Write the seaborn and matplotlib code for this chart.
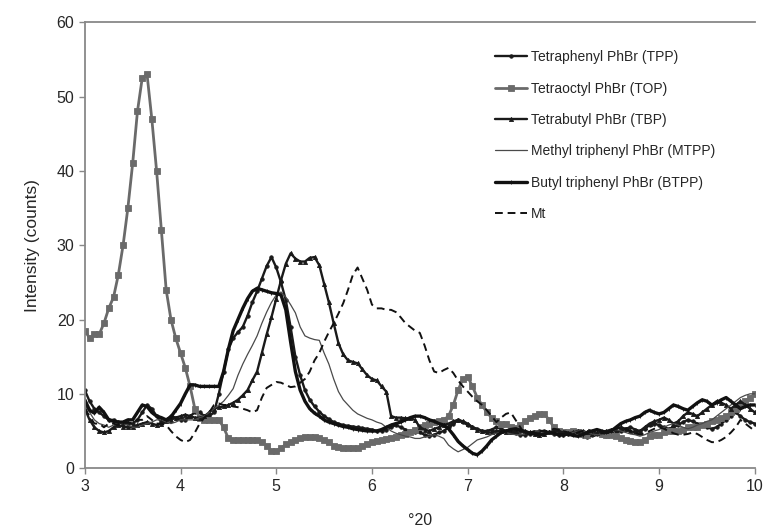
import numpy as np
import pandas as pd
import matplotlib
matplotlib.use("Agg")
import matplotlib.pyplot as plt
import seaborn as sns

# 2-theta grid of the diffractograms (0.05 deg step)
two_theta = np.round(np.linspace(3.0, 10.0, 141), 2)

tpp = [10.5, 9, 8, 7.5, 7, 6.5, 6.5, 6.2, 6, 6, 6, 6.5, 7.5, 8.5, 8, 7, 6.2, 6.5, 7, 6.8,
       6.5, 6.5, 7, 7.5, 7.5, 7, 7, 7.5, 10, 13, 16, 17.5, 18.3, 19, 20.5, 22.3, 23.8, 25.5, 27.2, 28.4,
       27, 25, 22.6, 19, 15, 12.5, 10.5, 9.2, 8.3, 7.6, 7, 6.6, 6.2, 6, 5.8, 5.7, 5.6, 5.5, 5.4, 5.3,
       5.2, 5, 5, 5.2, 5.5, 5.8, 5.5, 5.2, 5, 4.8, 4.8, 4.5, 4.3, 4.5, 4.8, 5, 5.5, 6, 6.5, 6.2,
       5.8, 5.5, 5.3, 5, 5, 5.2, 5.5, 5.3, 5, 4.8, 4.7, 4.5, 4.5, 4.6, 4.8, 5, 5, 4.8, 4.6, 4.5,
       4.5, 4.6, 4.8, 4.5, 4.3, 4.2, 4.4, 4.6, 4.5, 4.3, 4.5, 4.8, 5, 5.3, 5.5, 5.2, 5, 5.3, 5.8, 6,
       5.8, 5.5, 5.3, 5.5, 5.8, 6.2, 6.5, 6.3, 6, 5.8, 5.5, 5.3, 5.5, 6, 6.5, 7, 7.5, 7, 6.5, 6.2,
       6]

top = [18.5, 17.5, 18, 18, 19.5, 21.5, 23, 26, 30, 35, 41, 48, 52.5, 53, 47, 40, 32, 24, 20, 17.5,
       15.5, 13.5, 11, 8, 6.8, 6.5, 6.5, 6.5, 6.5, 5.5, 4, 3.8, 3.8, 3.8, 3.8, 3.8, 3.8, 3.5, 3, 2.3,
       2.3, 2.7, 3.2, 3.5, 3.8, 4, 4.2, 4.2, 4.2, 4, 3.8, 3.5, 3, 2.8, 2.7, 2.7, 2.7, 2.7, 3, 3.2,
       3.5, 3.6, 3.8, 3.9, 4, 4.2, 4.5, 4.6, 4.8, 5.2, 5.5, 5.8, 6, 6.2, 6.3, 6.5, 7, 8.5, 10.5, 12,
       12.3, 11, 9.5, 8.5, 7.5, 6.8, 6.3, 6, 6, 5.6, 5.4, 5.8, 6.3, 6.8, 7, 7.3, 7.3, 6.5, 5.5, 5,
       4.8, 4.8, 5, 4.8, 4.6, 4.5, 4.7, 4.8, 4.6, 4.5, 4.5, 4.3, 4.0, 3.8, 3.6, 3.5, 3.5, 3.8, 4.3, 4.5,
       4.5, 4.8, 5, 5, 5, 5.2, 5.5, 5.5, 5.5, 5.8, 6, 6.3, 6.5, 6.8, 7, 7.5, 8, 8.5, 9, 9.5,
       10]

tbp = [8, 6.5, 5.5, 5, 4.8, 5, 5.5, 5.8, 5.6, 5.5, 5.5, 5.8, 6, 6.2, 6, 5.8, 6, 6.3, 6.5, 6.8,
       7, 7.2, 7, 6.8, 6.8, 7, 7.5, 8, 8.2, 8.3, 8.5, 8.8, 9.2, 9.8, 10.5, 11.8, 13, 15.5, 18, 20.3,
       22.8, 25.3, 27.5, 28.9, 28.2, 27.8, 27.8, 28.3, 28.4, 27.3, 24.8, 22.3, 19.5, 16.8, 15.3, 14.5, 14.3, 14.1, 13.3, 12.5,
       12, 11.8, 11, 10.3, 7, 6.8, 6.8, 6.7, 6.7, 6.5, 5.5, 5.2, 5, 5.3, 5.5, 5.8, 6, 6.3, 6.5, 6.3,
       6, 5.5, 5.2, 5, 4.8, 4.8, 5, 5, 4.8, 4.8, 5, 5.2, 5, 4.8, 4.6, 4.5, 4.6, 4.8, 5, 5,
       4.8, 4.7, 4.8, 5, 5, 4.8, 4.6, 4.7, 4.9, 5, 5.2, 5.3, 5.5, 5.3, 5, 4.8, 5, 5.5, 6, 6.3,
       6.5, 6.8, 6.5, 6, 6.3, 7, 7.5, 7.3, 7, 7.5, 8, 8.5, 9, 8.8, 8.5, 8, 8.5, 9, 8.5, 8,
       7.5]

mtpp = [8.5, 7.5, 6.5, 6, 5.8, 5.5, 5.8, 6, 6, 5.8, 5.5, 5.5, 5.8, 6, 6.2, 6.5, 6.5, 6.2, 6, 6.2,
        6.5, 6.5, 6.5, 6.5, 6.8, 7, 7.5, 8, 8.5, 9, 9.8, 10.7, 12.5, 14, 15.3, 16.5, 17.8, 19.5, 21, 22.3,
        23.3, 23.7, 23, 22, 20.9, 19, 17.8, 17.5, 17.3, 17.2, 15.5, 14, 12, 10.3, 9.2, 8.5, 7.8, 7.3, 7, 6.7,
        6.5, 6.2, 6, 5.5, 5, 4.7, 4.5, 4.3, 4.2, 4, 4, 4.2, 4.3, 4.5, 4.3, 4, 3.1, 2.6, 2.2, 2.5,
        2.8, 3.3, 3.8, 4, 4.2, 4.5, 4.7, 4.8, 4.8, 4.6, 4.5, 4.5, 4.6, 4.8, 5, 5, 4.8, 4.6, 4.5, 4.5,
        4.5, 4.6, 4.8, 5, 5, 4.8, 4.6, 4.5, 4.5, 4.7, 5, 5.2, 5, 4.8, 4.6, 4.5, 4.3, 4.5, 4.8, 5,
        5.2, 5.5, 5.8, 6, 5.8, 5.5, 5.3, 5.5, 5.8, 6, 6.3, 6.5, 7, 7.5, 8, 8.5, 9, 9.5, 9.8, 10,
        10]

btpp = [9.2, 7.8, 7.4, 8.2, 7.5, 6.5, 6.3, 6.2, 6.2, 6.5, 6.5, 7.5, 8.5, 8.3, 7.5, 7, 6.8, 6.5, 6.9, 7.8,
        8.7, 10, 11.2, 11.2, 11, 11, 11, 11, 11, 13, 16, 18.5, 20, 21.5, 22.8, 23.8, 24.2, 24, 23.8, 23.6,
        23.5, 23.3, 21.3, 17, 13, 10.5, 9, 8, 7.4, 7, 6.5, 6.2, 6, 5.8, 5.6, 5.5, 5.3, 5.2, 5.1, 5,
        5, 5, 5.2, 5.5, 5.8, 6, 6.2, 6.5, 6.8, 7, 7, 6.8, 6.5, 6.3, 6, 5.8, 5.3, 4.5, 3.6, 3,
        2.5, 2, 1.8, 2.3, 3, 3.8, 4.3, 4.8, 5, 5.2, 5.3, 5.1, 4.9, 4.7, 4.6, 4.5, 4.6, 4.8, 4.7, 4.5,
        4.5, 4.6, 4.4, 4.3, 4.5, 4.8, 5, 5.2, 5, 4.8, 5, 5.5, 6, 6.3, 6.5, 6.8, 7, 7.5, 7.8, 7.5,
        7.3, 7.5, 8, 8.5, 8.3, 8, 7.8, 8.3, 8.8, 9.2, 9, 8.5, 8.8, 9.2, 9.5, 9, 8.5, 8, 8.3, 8.5,
        8.5]

mt = [8, 7, 6, 6, 5.5, 6, 6, 5.8, 6, 6.2, 6, 6.5, 6.5, 7, 6.5, 6, 6, 5.8, 5, 4.3,
      3.8, 3.5, 3.8, 4.8, 6, 6.8, 7.5, 8.5, 8.7, 8.5, 8.5, 8.3, 8.2, 8, 7.8, 7.5, 7.8, 9.5, 10.8, 11.2,
      11.6, 11.5, 11.2, 10.9, 11, 11.5, 12, 13, 14.5, 15.5, 17, 18.3, 19.5, 20.8, 22.2, 24, 26, 27, 25.5, 24,
      22, 21.5, 21.5, 21.3, 21.3, 21, 20.3, 19.5, 19, 18.5, 18.2, 16.5, 14.5, 13, 12.8, 13.2, 13.5, 12.8, 11.8, 11,
      10.3, 9.6, 9, 8.5, 7.8, 7, 6.2, 6.8, 7.3, 7.5, 6.5, 5.5, 4.6, 4.8, 5, 5, 5, 5, 5.3, 5.2,
      5, 4.8, 4.6, 4.8, 5, 5.2, 5, 4.8, 4.7, 4.8, 5, 5.3, 5.5, 5.3, 5, 4.8, 4.5, 4.7, 5, 5.3,
      5.5, 5.3, 5, 4.7, 4.5, 4.5, 4.6, 4.8, 4.6, 4.2, 3.8, 3.5, 3.5, 3.8, 4.2, 4.8, 5.5, 6.5, 6, 5.5,
      5]

series = [
    ("Tetraphenyl PhBr (TPP)", tpp, dict(color="#1a1a1a", lw=1.7, marker="o", ms=2.5, ls="-")),
    ("Tetraoctyl PhBr (TOP)", top, dict(color="#6a6a6a", lw=2.0, marker="s", ms=4.5, ls="-")),
    ("Tetrabutyl PhBr (TBP)", tbp, dict(color="#1a1a1a", lw=1.7, marker="^", ms=3, ls="-")),
    ("Methyl triphenyl PhBr (MTPP)", mtpp, dict(color="#4a4a4a", lw=0.9, marker=None, ls="-")),
    ("Butyl triphenyl PhBr (BTPP)", btpp, dict(color="#111111", lw=2.4, marker="|", ms=3, ls="-")),
    ("Mt", mt, dict(color="#111111", lw=1.4, marker=None, ls=(0, (4, 2.5)))),
]

sns.set_style("white")
plt.rcParams["font.family"] = ["Liberation Sans", "DejaVu Sans"]

fig = plt.figure(figsize=(7.64, 5.29), dpi=100)
ax = fig.add_axes([0.111, 0.115, 0.877, 0.843])

for name, vals, st in series:
    df = pd.DataFrame({"x": two_theta, "y": vals})
    sns.lineplot(data=df, x="x", y="y", ax=ax, label=name, color=st["color"],
                 linewidth=st["lw"], marker=st["marker"], markersize=st.get("ms", 0),
                 markeredgewidth=0.6, linestyle=st["ls"], markeredgecolor=st["color"])

ax.set_xlim(3, 10)
ax.set_ylim(0, 60)
ax.set_xticks(range(3, 11))
ax.set_yticks(range(0, 61, 10))
ax.tick_params(axis="both", labelsize=11.5, length=4, width=1, color="#888888",
               direction="out", bottom=True, left=True)
ax.set_xlabel("°20", fontsize=11.5, labelpad=14)
ax.set_ylabel("Intensity (counts)", fontsize=12.5, labelpad=12)

for side in ["left", "bottom", "top"]:
    ax.spines[side].set_visible(True)
    ax.spines[side].set_color("#888888")
    ax.spines[side].set_linewidth(1.3)
ax.spines["right"].set_visible(False)

ax.legend(loc="upper left", bbox_to_anchor=(0.648, 0.905), bbox_transform=fig.transFigure,
          frameon=False, fontsize=10, handlelength=2.3, handletextpad=0.3,
          labelspacing=1.25, borderpad=0, borderaxespad=0)

fig.savefig("out.png", dpi=100, facecolor="white")
